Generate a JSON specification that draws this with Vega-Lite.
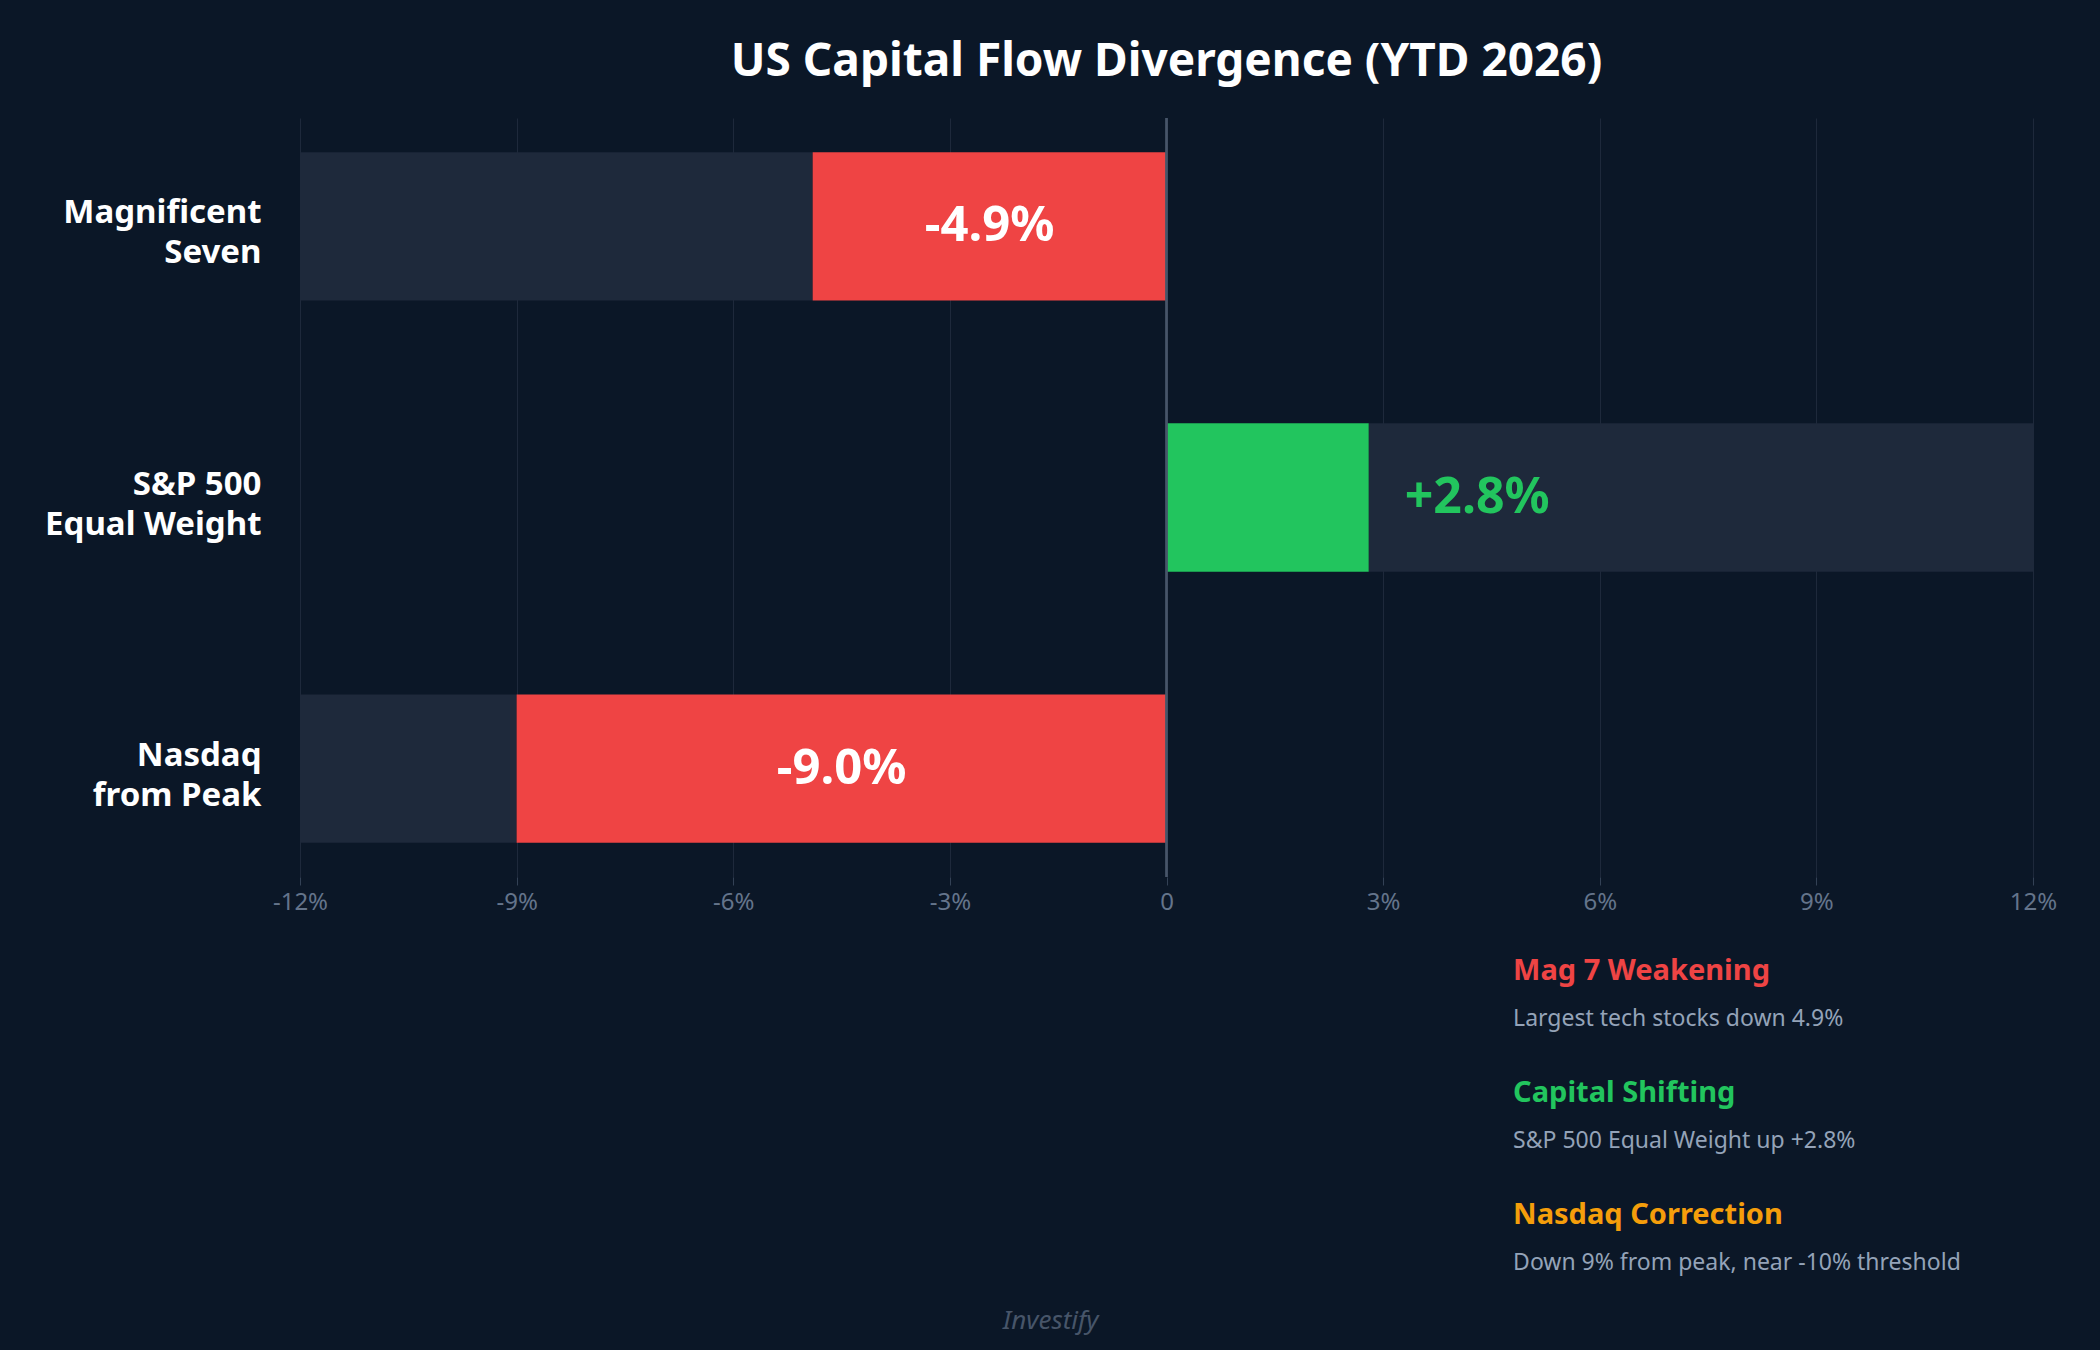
{
  "$schema": "https://vega.github.io/schema/vega-lite/v6.json",
  "background": "#0b1727",
  "padding": {"left": 44, "right": 62, "top": 39, "bottom": 19},
  "spacing": 20,
  "config": {"font": "Noto Sans", "view": {"stroke": null}},
  "title": {"text": "Investify", "orient": "bottom", "anchor": "middle", "frame": "bounds", "fontSize": 26, "fontStyle": "italic", "fontWeight": "normal", "color": "#475569", "offset": 8, "dx": 0},
  "vconcat": [
    {
      "width": 1733,
      "height": 759,
      "title": {"text": "US Capital Flow Divergence (YTD 2026)", "anchor": "middle", "frame": "group", "fontSize": 46, "fontWeight": "bold", "color": "#ffffff", "offset": 31},
      "data": {"values": [
        {"index": "Magnificent Seven", "value": -4.9, "label": "-4.9%"},
        {"index": "S&P 500 Equal Weight", "value": 2.8, "label": "+2.8%"},
        {"index": "Nasdaq from Peak", "value": -9.0, "label": "-9.0%"}
      ]},
      "layer": [
        {
          "transform": [{"filter": "datum.value < 0"}],
          "mark": {"type": "bar", "color": "#1e293b"},
          "encoding": {
            "y": {"field": "index", "type": "nominal", "sort": ["Magnificent Seven", "S&P 500 Equal Weight", "Nasdaq from Peak"],
              "scale": {"domain": ["Magnificent Seven", "S&P 500 Equal Weight", "Nasdaq from Peak"], "paddingInner": 0.4524, "paddingOuter": 0.126},
              "axis": {"title": null, "domain": false, "ticks": false, "grid": false, "labelFontSize": 33, "labelFontWeight": "bold", "labelColor": "#ffffff", "labelPadding": 39, "labelLineHeight": 40, "labelLimit": 400, "labelOffset": -13,
                "labelExpr": "datum.value == 'Magnificent Seven' ? ['Magnificent','Seven'] : datum.value == 'S&P 500 Equal Weight' ? ['S&P 500','Equal Weight'] : ['Nasdaq','from Peak']"}},
            "x": {"field": "value", "type": "quantitative", "scale": {"domain": [-12, 12], "nice": false, "zero": false},
              "axis": {"title": null, "values": [-12, -9, -6, -3, 0, 3, 6, 9, 12], "labelExpr": "datum.value == 0 ? '0' : datum.value + '%'", "labelColor": "#64748b", "labelFontSize": 24, "labelPadding": 5, "tickSize": 8, "tickColor": "#334155", "gridColor": "#1e293b", "gridWidth": 1, "domain": false, "labelFlush": false}},
            "x2": {"datum": -12}
          }
        },
        {
          "transform": [{"filter": "datum.value > 0"}],
          "mark": {"type": "bar", "color": "#1e293b"},
          "encoding": {
            "y": {"field": "index", "type": "nominal", "sort": ["Magnificent Seven", "S&P 500 Equal Weight", "Nasdaq from Peak"]},
            "x": {"field": "value", "type": "quantitative"},
            "x2": {"datum": 12}
          }
        },
        {
          "mark": {"type": "bar"},
          "encoding": {
            "y": {"field": "index", "type": "nominal", "sort": ["Magnificent Seven", "S&P 500 Equal Weight", "Nasdaq from Peak"]},
            "x": {"field": "value", "type": "quantitative"},
            "x2": {"datum": 0},
            "color": {"condition": {"test": "datum.value < 0", "value": "#ef4444"}, "value": "#22c55e"}
          }
        },
        {
          "mark": {"type": "rule", "color": "#475569", "strokeWidth": 2},
          "encoding": {"x": {"datum": 0}}
        },
        {
          "transform": [{"filter": "datum.value < 0"}, {"calculate": "datum.value / 2", "as": "mid"}],
          "mark": {"type": "text", "fontSize": 49, "fontWeight": "bold", "color": "#ffffff", "align": "center", "baseline": "middle"},
          "encoding": {
            "y": {"field": "index", "type": "nominal", "sort": ["Magnificent Seven", "S&P 500 Equal Weight", "Nasdaq from Peak"]},
            "x": {"field": "mid", "type": "quantitative"},
            "text": {"field": "label"}
          }
        },
        {
          "transform": [{"filter": "datum.value > 0"}],
          "mark": {"type": "text", "fontSize": 50, "fontWeight": "bold", "color": "#22c55e", "align": "left", "baseline": "middle", "dx": 36},
          "encoding": {
            "y": {"field": "index", "type": "nominal", "sort": ["Magnificent Seven", "S&P 500 Equal Weight", "Nasdaq from Peak"]},
            "x": {"field": "value", "type": "quantitative"},
            "text": {"field": "label"}
          }
        }
      ]
    },
    {
      "width": 1733,
      "height": 366,
      "data": {"values": [
        {"heading": "Mag 7 Weakening", "desc": "Largest tech stocks down 4.9%"},
        {"heading": "Capital Shifting", "desc": "S&P 500 Equal Weight up +2.8%"},
        {"heading": "Nasdaq Correction", "desc": "Down 9% from peak, near -10% threshold"}
      ]},
      "encoding": {
        "x": {"datum": 4.8, "type": "quantitative", "scale": {"domain": [-12, 12], "nice": false, "zero": false}, "axis": null},
        "y": {"field": "heading", "type": "nominal", "sort": null, "scale": {"type": "point", "padding": 0.5, "domain": ["Mag 7 Weakening", "Capital Shifting", "Nasdaq Correction"]}, "axis": null}
      },
      "layer": [
        {
          "mark": {"type": "text", "align": "left", "baseline": "middle", "fontSize": 29, "fontWeight": "bold", "dy": -24},
          "encoding": {
            "text": {"field": "heading"},
            "color": {"field": "heading", "type": "nominal", "scale": {"domain": ["Mag 7 Weakening", "Capital Shifting", "Nasdaq Correction"], "range": ["#ef4444", "#22c55e", "#f59e0b"]}, "legend": null}
          }
        },
        {
          "mark": {"type": "text", "align": "left", "baseline": "middle", "fontSize": 23, "color": "#94a3b8", "dy": 24},
          "encoding": {"text": {"field": "desc"}}
        }
      ]
    }
  ]
}
